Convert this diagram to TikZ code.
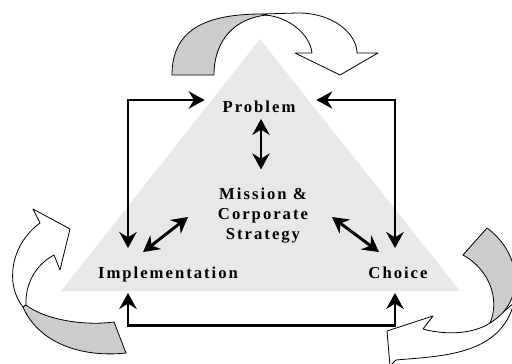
\documentclass[tikz,border=0pt]{standalone}
\usepackage{fontspec}
\usetikzlibrary{arrows.meta}
\newfontfamily\stagefont[LetterSpace=12]{Liberation Serif}
\definecolor{pyramid}{HTML}{E8E8E8}
\definecolor{ribbonback}{HTML}{CCCCCC}
\tikzset{
    stage/.style={font=\stagefont\bfseries\fontsize{12.5}{15}\selectfont,inner sep=2pt,text height=9pt,text depth=0pt},
    core/.style={font=\stagefont\bfseries\fontsize{12.5}{15}\selectfont,inner sep=2pt,align=center},
    link/.style={line width=2.2pt,{Stealth[length=12pt,width=13pt,inset=4pt]}-{Stealth[length=12pt,width=13pt,inset=4pt]}},
    front/.style={draw=black,line width=0.6pt,fill=white,line join=round},
    back/.style={front,fill=ribbonback},
}

\begin{document}
\begin{tikzpicture}[x=0.75pt,y=-0.75pt]
    \useasboundingbox (0,0) rectangle (512,364);
    \clip (0,0) rectangle (512,364);
    \fill[pyramid] (260,39) -- (460,291) -- (61,291) -- cycle;

    % cycle ribbons round the pyramid
    \draw[front] (262,14) -- (298,13) .. controls (335,13) and (357,35) .. (357,53)
        -- (378,53) -- (340,75) -- (295,53) -- (312,53)
        .. controls (310,35) and (290,17) .. (265,15) -- cycle;
    \draw[back] (172,75) .. controls (172,30) and (205,14) .. (262,14) -- (267,15)
        .. controls (235,18) and (214,40) .. (214,75) -- cycle;

    \draw[front] (23,307) .. controls (5,285) and (10,245) .. (40,223)
        -- (33,209) -- (70,229) -- (60,270) -- (54,255)
        .. controls (35,265) and (25,285) .. (26,305) -- cycle;
    \draw[back] (26,305) .. controls (45,320) and (85,326) .. (114,322) -- (126,353)
        .. controls (80,358) and (38,342) .. (23,307) -- cycle;

    \draw[front] (490,323) .. controls (470,336) and (440,334) .. (423,329)
        -- (433,316) -- (387,331) -- (390,366) -- (396,360)
        .. controls (440,356) and (500,356) .. (514,303) -- cycle;
    \draw[back] (487,228) .. controls (520,252) and (528,300) .. (490,323)
        .. controls (500,300) and (490,270) .. (463,255) -- cycle;

    % stages
    \node[stage] (problem) at (259,107) {Problem};
    \node[core] (mission) at (263,216) {Mission \&\\Corporate\\Strategy};
    \node[stage] (impl) at (168,272) {Implementation};
    \node[stage] (choice) at (398,272) {Choice};

    \draw[link] ([shift={(-15,-7)}]problem.west) -| ([shift={(-40,-15)}]impl.north);
    \draw[link] ([shift={(18,-7)}]problem.east) -| ([shift={(-3,-15)}]choice.north);
    \draw[link] ([shift={(-40,12)}]impl.south) -- ++(0,33) -| ([shift={(-3,12)}]choice.south);
    \draw[link] ([shift={(2,3)}]problem.south) -- ([shift={(-2,-16)}]mission.north);
    \draw[link] ([shift={(-25,-11)}]impl.north) -- ([shift={(-27,1)}]mission.west);
    \draw[link] ([shift={(21,1)}]mission.east) -- ([shift={(-19,-11)}]choice.north);
\end{tikzpicture}
\end{document}
